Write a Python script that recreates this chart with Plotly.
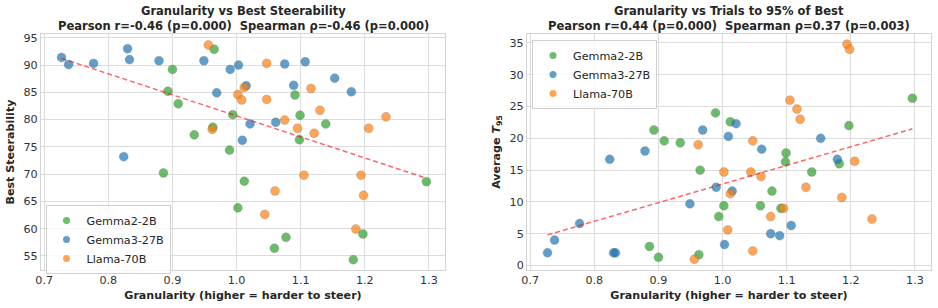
import numpy as np
import plotly.graph_objects as go

models = ["Gemma2-2B", "Gemma3-27B", "Llama-70B"]
colors = {"Gemma2-2B": "#2ca02c", "Gemma3-27B": "#1f77b4", "Llama-70B": "#ff7f0e"}

gran_gemma2 = [0.886, 0.893, 0.900, 0.909, 0.934, 0.963, 0.965, 0.989, 0.994, 1.002,
               1.012, 1.059, 1.077, 1.091, 1.098, 1.099, 1.139, 1.182, 1.197, 1.296]
steer_gemma2 = [70.2, 85.2, 89.2, 82.9, 77.2, 78.6, 92.9, 74.4, 80.9, 63.8,
                68.7, 56.4, 58.4, 84.5, 76.3, 80.8, 79.2, 54.3, 59.0, 68.6]
t95_gemma2 = [3.0, 21.3, 1.3, 19.6, 19.3, 1.7, 15.0, 24.0, 7.7, 9.4,
              22.6, 9.4, 11.7, 9.0, 16.3, 17.7, 14.7, 16.0, 22.0, 26.3]

gran_gemma3 = [0.727, 0.738, 0.777, 0.824, 0.830, 0.833, 0.879, 0.949, 0.969, 0.990,
               1.003, 1.009, 1.015, 1.021, 1.061, 1.075, 1.089, 1.107, 1.153, 1.179]
steer_gemma3 = [91.4, 90.1, 90.3, 73.2, 93.0, 91.0, 90.8, 90.8, 84.9, 89.2,
                90.0, 76.2, 86.2, 79.2, 79.5, 90.2, 86.3, 90.6, 87.6, 85.1]
t95_gemma3 = [2.0, 4.0, 6.6, 16.7, 2.0, 2.0, 18.0, 9.7, 21.3, 12.3,
              3.3, 20.3, 11.7, 22.3, 18.3, 5.0, 4.7, 6.3, 20.0, 16.7]

gran_llama = [0.956, 0.962, 1.002, 1.008, 1.012, 1.044, 1.047, 1.047, 1.060, 1.075,
              1.095, 1.105, 1.116, 1.121, 1.130, 1.186, 1.194, 1.198, 1.206, 1.233]
steer_llama = [93.7, 78.2, 84.6, 83.6, 85.9, 62.6, 90.3, 83.7, 66.9, 79.9,
               78.4, 69.8, 85.7, 77.5, 81.7, 59.9, 69.8, 66.1, 78.4, 80.5]
t95_llama = [1.0, 19.0, 14.7, 5.6, 11.3, 14.7, 19.6, 2.3, 14.0, 7.7,
             9.0, 26.0, 24.6, 23.0, 12.3, 10.7, 34.8, 34.0, 16.4, 7.3]

data = {
    "Gemma2-2B": (gran_gemma2, steer_gemma2, t95_gemma2),
    "Gemma3-27B": (gran_gemma3, steer_gemma3, t95_gemma3),
    "Llama-70B": (gran_llama, steer_llama, t95_llama),
}

title_left = ["Granularity vs Best Steerability",
              "Pearson r=-0.46 (p=0.000)  Spearman ρ=-0.46 (p=0.000)"]
title_right = ["Granularity vs Trials to 95% of Best",
               "Pearson r=0.44 (p=0.000)  Spearman ρ=0.37 (p=0.003)"]
xlabel = "Granularity (higher = harder to steer)"
ylabel_left = "Best Steerability"
ylabel_right = "Average <i>T</i><sub>95</sub>"

FONT = "DejaVu Sans"
W, H = 938, 308
TXT = "#262626"

fig = go.Figure()

for m in models:
    g, s, t = data[m]
    mk = dict(size=9, color=colors[m], opacity=0.7,
              line=dict(width=0.6, color="rgba(80,80,80,0.5)"))
    fig.add_trace(go.Scatter(x=g, y=s, mode="markers", name=m, showlegend=False,
                             marker=mk, xaxis="x", yaxis="y"))
    fig.add_trace(go.Scatter(x=g, y=t, mode="markers", name=m, showlegend=False,
                             marker=mk, xaxis="x2", yaxis="y2"))

# legend entries (small markers as in reference)
for lg, xa, ya in [("legend", "x", "y"), ("legend2", "x2", "y2")]:
    for m in models:
        fig.add_trace(go.Scatter(x=[None], y=[None], mode="markers", name=m, legend=lg,
                                 marker=dict(size=7, color=colors[m], opacity=0.7),
                                 xaxis=xa, yaxis=ya))

all_g = np.concatenate([np.array(data[m][0]) for m in models])
all_s = np.concatenate([np.array(data[m][1]) for m in models])
all_t = np.concatenate([np.array(data[m][2]) for m in models])
xs = np.array([all_g.min(), all_g.max()])
for yv, xa, ya in [(all_s, "x", "y"), (all_t, "x2", "y2")]:
    k, b = np.polyfit(all_g, yv, 1)
    fig.add_trace(go.Scatter(
        x=xs, y=k * xs + b, mode="lines", showlegend=False,
        line=dict(color="rgba(255,0,0,0.6)", width=1.5, dash="5px,3px"),
        xaxis=xa, yaxis=ya))

x_left = [41 / W, 445 / W]
x_right = [527 / W, 931 / W]
y_dom = [1 - 270 / H, 1 - 34 / H]

axis_common = dict(
    showgrid=True, gridcolor="#dcdcdc", gridwidth=1,
    showline=True, linecolor="#d4d4d4", linewidth=1, mirror=True,
    zeroline=False, ticks="", automargin=False,
    tickfont=dict(family=FONT, size=11.2, color="#333333"),
)
lab_font = dict(family=FONT, size=11.1, color=TXT, weight="bold")
xtitle = dict(text=xlabel, font=lab_font, standoff=4)

leg_common = dict(xanchor="left", yanchor="top",
                  bgcolor="rgba(255,255,255,0.8)", bordercolor="#d0d0d0", borderwidth=1,
                  font=dict(family=FONT, size=11.2, color=TXT), tracegroupgap=0,
                  itemwidth=30)

fig.update_layout(
    template="none",
    width=W, height=H,
    margin=dict(l=0, r=0, t=0, b=0),
    paper_bgcolor="white", plot_bgcolor="white",
    font=dict(family=FONT, color=TXT),
    xaxis=dict(domain=x_left, range=[0.695, 1.325], dtick=0.1, tickformat=".1f",
               anchor="y", title=xtitle, **axis_common),
    yaxis=dict(domain=y_dom, range=[52.4, 95.7], dtick=5, anchor="x",
               title=dict(text=ylabel_left, font=lab_font, standoff=6), **axis_common),
    xaxis2=dict(domain=x_right, range=[0.695, 1.325], dtick=0.1, tickformat=".1f",
                anchor="y2", title=xtitle, **axis_common),
    yaxis2=dict(domain=y_dom, range=[-0.7, 36.4], dtick=5, anchor="x2",
                title=dict(text=ylabel_right, font=lab_font, standoff=6), **axis_common),
    legend=dict(x=45.5 / W, y=1 - 205 / H, **leg_common),
    legend2=dict(x=532 / W, y=1 - 40 / H, **leg_common),
    showlegend=True,
)

for lines, dom in [(title_left, x_left), (title_right, x_right)]:
    xc = (dom[0] + dom[1]) / 2
    for txt, yc in zip(lines, [11.0, 26.0]):
        fig.add_annotation(text="<b>" + txt + "</b>", x=xc, y=1 - yc / H, xref="paper", yref="paper",
                           xanchor="center", yanchor="middle", showarrow=False,
                           font=dict(family=FONT, size=11.5, color=TXT))

fig.write_html("out.html")
